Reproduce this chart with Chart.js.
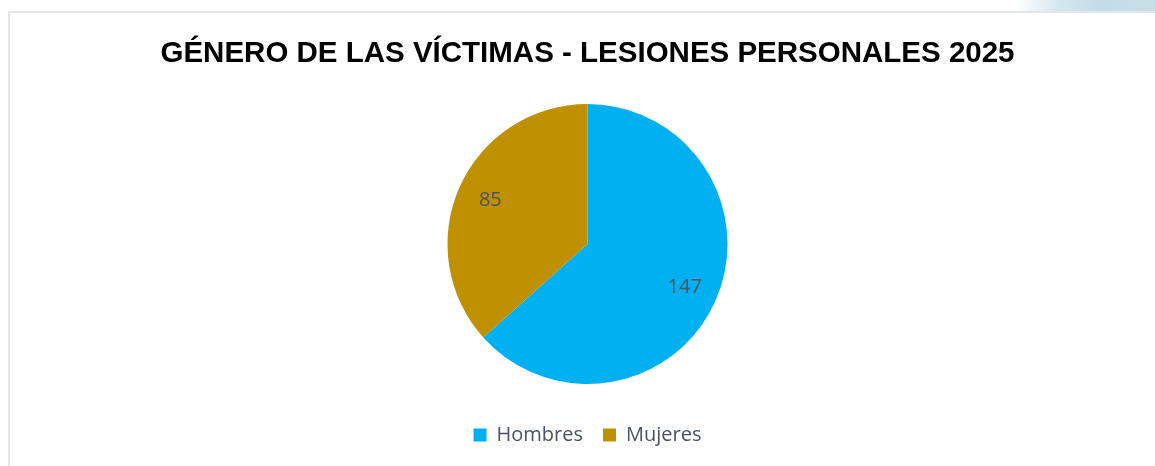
<!DOCTYPE html>
<html>
<head>
<meta charset="utf-8">
<script src="https://cdn.jsdelivr.net/npm/chart.js@4.4.1/dist/chart.umd.min.js"></script>
<style>
  html, body { margin: 0; padding: 0; background: #fff; }
  #wrap { position: relative; width: 1155px; height: 466px; overflow: hidden; }
  #deco { position: absolute; left: 1015px; top: 0; width: 140px; height: 11px;
          background: linear-gradient(90deg, rgba(255,255,255,0) 0%, #d6e8ef 30%, #c3dce8 60%, #c8dfe9 100%); }
  #frame { position: absolute; left: 8px; top: 11px; width: 1200px; height: 500px;
           border-left: 2px solid #e3e7ec; border-top: 2px solid #e3e7ec; box-sizing: border-box; }
  canvas { position: absolute; left: 0; top: 0; }
</style>
</head>
<body>
<div id="wrap">
  <div id="deco"></div>
  <div id="frame"></div>
  <canvas id="c" width="1155" height="466"></canvas>
</div>
<script>
const titleText = 'GÉNERO DE LAS VÍCTIMAS - LESIONES PERSONALES 2025';
const categories = ['Hombres', 'Mujeres'];
const victimCounts = [147, 85];
const sliceColors = ['#00B0F0', '#BF9000'];

const sliceLabels = {
  id: 'sliceLabels',
  afterDatasetsDraw(chart) {
    const ctx = chart.ctx;
    const meta = chart.getDatasetMeta(0);
    ctx.save();
    ctx.font = '20px "Open Sans"';
    ctx.fillStyle = '#4a5263';
    ctx.textAlign = 'center';
    ctx.textBaseline = 'middle';
    meta.data.forEach((arc, i) => {
      const mid = (arc.startAngle + arc.endAngle) / 2;
      const r = arc.outerRadius * 0.76;
      ctx.fillText(String(chart.data.datasets[0].data[i]), arc.x + Math.cos(mid) * r, arc.y + Math.sin(mid) * r);
    });
    ctx.restore();
  }
};

new Chart(document.getElementById('c'), {
  type: 'pie',
  data: {
    labels: categories,
    datasets: [{ data: victimCounts, backgroundColor: sliceColors, borderWidth: 0, radius: 140 }]
  },
  options: {
    responsive: false,
    animation: false,
    layout: { padding: { top: 0, bottom: 11, left: 20, right: 0 } },
    plugins: {
      title: {
        display: true,
        text: titleText,
        color: '#000',
        font: { family: '"Liberation Sans", sans-serif', size: 29.5, weight: 'bold', lineHeight: 1.2 },
        padding: { top: 36, bottom: 11.6 }
      },
      legend: {
        position: 'bottom',
        labels: {
          boxWidth: 13, boxHeight: 13, padding: 20,
          color: '#4a5263',
          font: { family: '"Open Sans"', size: 20 }
        }
      },
      tooltip: { enabled: false }
    }
  },
  plugins: [sliceLabels]
});
</script>
</body>
</html>
